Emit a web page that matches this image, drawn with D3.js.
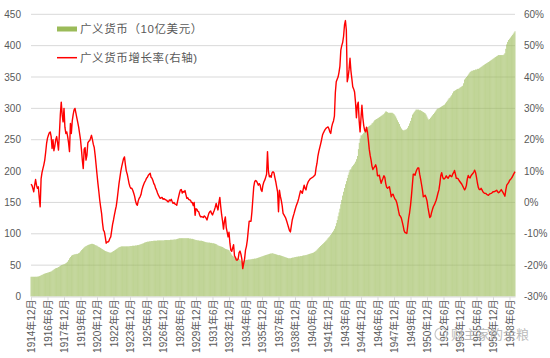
<!DOCTYPE html>
<html><head><meta charset="utf-8">
<script src="https://cdn.jsdelivr.net/npm/d3@7"></script>
<style>body{margin:0;background:#fff}svg{display:block}</style>
</head><body>
<svg id="c" width="550" height="358"></svg>
<script>
const startYear = 1914, startMonth = 12;
// 广义货币（10亿美元）, monthly from 1914-12
const money = [
31.5,
31.5,31.5,31.5,31.5,31.6,31.6,31.8,32,32.5,33,34,34.5,
35,36,36.5,37,37.5,38,38.5,39,39.5,40,41,42,
43,44,45,45.5,46,47,48,49,50,50.5,51,51.5,
52,53,54,55.5,58,61,63,65,66,66.5,67,67.5,
67.5,68,68,69,70,72,74,75.5,77,78.5,79.5,80.5,
81,82,82.5,83,83.5,84,84,83.5,83,82,81.5,81,
80,79,78.5,77.5,76.5,75.5,74.5,73.5,72.5,72,71.5,71,
70.5,70,70,70.5,71.5,72.5,73.5,74.5,75.5,76.5,77.5,78.5,
79,79.5,80,80,80,80,80,80,80,80,80,80.5,
80.5,80.5,81,81,81,81.5,81.5,82,82,82.5,83,83.5,
84,84.5,85,86,86.5,87,87.5,87.5,88,88,88.5,88.5,
88.5,89,89,89,89,89.5,89.5,89.5,89.5,89.5,89.5,89.5,
89.5,90,90,90,90,90,90,90.5,90.5,90.5,90.5,91,
91,91,91.5,92,92.5,93,93,93,93,93,93,93,
93,93,93,93,92.5,92.5,92,92,91.5,91,90.5,90,
90,89.5,89.5,89,89,89,88.5,88,87.5,87,86.5,86.5,
86,86,86,85.5,85.5,85,85,84.5,84,83.5,82.5,81.5,
81,80.5,80,79.5,79,78,77,76,75.5,75,74.5,74,
72,70,67,65,64,63,62,61.5,61,60.5,60,59,
57,56,55.5,56.5,57.5,58,58.5,58.5,59,59,59,59.5,
59.5,60,60,60.5,60.5,61,61.5,62,62.5,63,63.5,64,
64.5,65,65.5,66,66.5,67,67.5,68,68.5,68.5,69,69,
68,68,67.5,67,66.5,66,66,65.5,65,64.5,64,63.5,
63,62.5,62,61.5,61,61,61,61.5,62,62,62.5,63,
63,63.5,63.5,64,64,64.5,64.5,65,65.5,65.5,66,66,
66.5,67,67.5,68,68.5,69,69.5,70,71,72,73,74.5,
76,77.5,79,80.5,82,83.5,85,86.5,88,89.5,91,93,
94.5,96,98,100,102.5,105,108,112,117,122,128,134,
140,147,154,161,167,173,179,184,189,194,198,202,
203,206,208,210,212,215,219,224,235,245,252,257,
257,259,261,263,266,268,270,271,272,273,274,276,
277,279,281,282,283,284,285,286,287,288,289,290,
291,293,295,295,294,293,293,293,293,293,292,291,
289,287,284,281,278,275,271,268,266,265,265,266,
266,267,269,272,276,280,285,290,292,294,296,298,
298,298,298,297,297,296,295,294,293,292,290,287,
284,282,283,285,287,289,291,293,295,297,299,300,
300,301,302,303,304,305,306,308,310,312,314,316,
317,319,321,324,327,328,329,330,331,331,332,333,
334,335,336,340,346,348,350,352,354,356,358,359,
360,360,361,361,362,362,363,363,364,365,366,367,
368,369,370,371,372,373,374,375,376,377,378,379,
380,381,382,383,384,385,385,385,385,385,385,386,
388,395,402,406,409,411,413,415,417,419,421,423
];
// 广义货币增长率（%）, monthly from 1914-12
const growth = [
5.8,
5.5,4.5,3.4,5.5,7.3,5.5,4.5,5.0,1.5,-1.4,7.5,9.5,
10.8,12,13.5,16,18.8,20.5,21.4,22.2,22.5,21,17.2,20,
16.5,18,20,21,19,16.7,22,28,32,28,25.7,30,
24,22,22.5,21,19,16.2,25.2,22,26,28,29.5,30,
28.5,27,25.5,24,22,20,17,13.5,10.8,17,17.5,13.5,
15,19,19.5,19.7,20.5,21.4,20,18.5,17.5,15,12,9,
6.1,3.5,0.7,-1.5,-3.5,-6.5,-8.8,-9.3,-11,-13,-12.6,-12.6,
-12.3,-11.5,-11,-9,-7,-5.6,-4,-2.5,-1.2,1,3.5,6,
8,10,11.5,12.8,14,14.5,12,10,9,7.5,6,5,
4.5,4.5,3.9,3,2,0.5,-0.5,-0.9,0.5,1.3,1.8,2.5,
4,5,5.8,6.5,7,7.7,8,8.7,9,9.3,8,7.7,
7,6,5.5,4.5,3.9,3,2.3,1.8,1.3,1.5,1.6,1,
1.2,1,0.8,0.7,0.3,0.2,0.8,0.5,1,0.3,-0.3,0,
-0.5,-0.6,-0.9,0.5,1.8,3,4,4.1,3,3.5,3.3,3.8,
2.5,1.3,1.5,1,0.8,0.7,0,0,-1,0,-4.1,-2,
-2.2,-2.8,-3,-4,-4.6,-4.5,-4.6,-4.8,-4.3,-4.6,-5,-5.6,
-4.5,-3.5,-3,-2.7,-3.5,-4,-3.2,-2.5,-1.5,-0.3,-1.5,-2.4,
0,1.6,-1.4,-4,-6,-8.5,-6,-4.6,-8,-9.5,-11,-9.5,
-13,-15.2,-15.6,-14.5,-13.5,-17,-17.5,-18.4,-18.4,-18,-16,-15.5,
-16.5,-18,-21.1,-19.5,-18,-15.2,-14,-12,-9,-6,-6,-6,
-3,1,5,6.6,7,6.8,6.2,5.5,6,5.5,4,3.5,
5.5,6.5,7.1,8,9,16.2,10,8.2,8.5,8,9.5,9.8,
9.5,8,6.6,5,3.4,-3,3.9,2,0.7,-1,-3.5,-4,
-4.5,-5.1,-6,-7,-8,-9,-9.4,-7.5,-5.6,-4.5,-3.5,-2.4,
-1.4,-0.6,0.2,1.2,2.5,3.7,3.4,2.9,4.2,5.5,4.5,4,
5.5,6.3,6.9,7.3,7.6,7.8,8,8.2,8.5,8.8,11,12.5,
14.8,16.3,17.5,18.7,20,21.5,22.2,22.8,23.3,23.7,23.9,24.1,
23.5,22.5,22,24,25.2,26,27.5,35,38.5,39.3,40,41.5,
43.5,48.6,50,51,53,56.6,58,55,38.5,40,42.5,46,
42,39.5,36.9,36.2,35.2,32,27,31,32,26,22.5,27,
31,27,24.5,23,22.5,24,22.5,20,17,15,13.5,11.5,
10.5,11,11.4,12,11,8.5,8.5,8.7,7.3,6.1,7,7.7,
8.5,8,6,4.8,4.5,4.8,5,3.5,1.8,2.5,2.6,1.8,
1.1,0.8,0,-1.3,-2.8,-4.1,-4.4,-5,-6.2,-7.5,-9,-9.6,
-9.7,-9.9,-7.5,-5,-3.3,-1,2,5.5,9,9,8.7,9.8,
10.5,11,11,9,7.5,5.8,4,1.8,2,2.3,1.6,0.5,
-1.5,-3.2,-4.8,-4.5,-3.2,-2.2,-1.3,-0.8,0,0.7,1.8,3,
4,6,8.5,9.5,8.2,7.5,7.5,7.9,8.5,8,7.7,8.2,
8.7,8.4,8.2,9,9.5,10.2,9,7.7,7.7,7.5,7,6.6,
6.2,5.8,5.2,4.6,4,4.5,5.5,7.5,8.6,8,7.8,8.5,
8.9,9.2,9.7,10.3,9.5,8,6.2,4.8,4.1,4.1,4.5,4,
3.4,3.1,2.9,2.9,2.6,2.4,2.3,2.6,2.8,2.9,3.1,3.4,
3.4,3.5,3.7,3.9,3.4,3.1,3.3,3.7,4.1,3.6,3.1,2.6,
2,4,5.5,5.9,6.3,7,7.3,7.7,8.1,8.7,9.3,9.8
];
const tickLabels = ["1914年12月","1916年6月","1917年12月","1919年6月","1920年12月","1922年6月","1923年12月","1925年6月","1926年12月","1928年6月","1929年12月","1931年6月","1932年12月","1934年6月","1935年12月","1937年6月","1938年12月","1940年6月","1941年12月","1943年6月","1944年12月","1946年6月","1947年12月","1949年6月","1950年12月","1952年6月","1953年12月","1955年6月","1956年12月","1958年6月"];
const leftTicks = [0,50,100,150,200,250,300,350,400,450];
const rightTicks = [-30,-20,-10,0,10,20,30,40,50,60];
const legendLabels = ["广义货币（10亿美元）","广义货币增长率(右轴)"];
const watermark = "财主家的余粮";

const months = money.map((_, i) => {
  const t = startMonth - 1 + i;
  return (startYear + Math.floor(t / 12)) + "年" + (t % 12 + 1) + "月";
});

const L = 31, R = 515, T = 14.3, B = 296.5;
const FONT = "'Liberation Sans','Noto Sans CJK SC',sans-serif";
const x = d3.scalePoint().domain(months).range([L, R]);
const yL = d3.scaleLinear().domain([0, 450]).range([B, T]);
const yR = d3.scaleLinear().domain([-30, 60]).range([B, T]);

const svg = d3.select("#c");

// gridlines
svg.append("g").selectAll("line").data(leftTicks.slice(1)).join("line")
  .attr("x1", L).attr("x2", R)
  .attr("y1", d => yL(d)).attr("y2", d => yL(d))
  .attr("stroke", "#d9d9d9").attr("stroke-width", 1);

// bars
const bw = 0.62;
svg.append("g").selectAll("rect").data(money).join("rect")
  .attr("x", (d, i) => x(months[i]) - bw / 2)
  .attr("width", bw)
  .attr("y", d => yL(d))
  .attr("height", d => yL(0) - yL(d))
  .attr("fill", "#9bbb59");

// x axis
const xa = svg.append("g").attr("transform", `translate(0,${B})`)
  .call(d3.axisBottom(x).tickValues(tickLabels).tickSize(4).tickSizeOuter(0));
xa.select(".domain").attr("stroke", "#d9d9d9");
xa.selectAll(".tick line").attr("stroke", "#d9d9d9");
xa.selectAll(".tick text")
  .attr("transform", "rotate(-90)")
  .attr("x", -3).attr("y", 0).attr("dy", "0.35em")
  .attr("text-anchor", "end")
  .attr("fill", "#595959")
  .style("font-family", FONT).style("font-size", "10px");

// left axis
const la = svg.append("g").attr("transform", `translate(${L},0)`)
  .call(d3.axisLeft(yL).tickValues(leftTicks).tickSize(0).tickPadding(10));
la.select(".domain").remove();
la.selectAll("text").attr("fill", "#595959").style("font-family", FONT).style("font-size", "10px");

// right axis
const ra = svg.append("g").attr("transform", `translate(${R},0)`)
  .call(d3.axisRight(yR).tickValues(rightTicks).tickSize(0).tickPadding(9).tickFormat(d => d + "%"));
ra.select(".domain").remove();
ra.selectAll("text").attr("fill", "#595959").style("font-family", FONT).style("font-size", "10px");

// growth line
svg.append("path").datum(growth)
  .attr("fill", "none").attr("stroke", "#ff0000").attr("stroke-width", 1.4)
  .attr("stroke-linejoin", "round")
  .attr("d", d3.line().x((d, i) => x(months[i])).y(d => yR(d)));

// legend
const lg = svg.append("g");
lg.append("rect").attr("x", 57).attr("y", 26.5).attr("width", 20).attr("height", 5).attr("fill", "#9bbb59");
lg.append("line").attr("x1", 57).attr("x2", 77).attr("y1", 57.7).attr("y2", 57.7).attr("stroke", "#ff0000").attr("stroke-width", 1.5);
lg.selectAll("text").data(legendLabels).join("text")
  .attr("x", 80).attr("y", (d, i) => i === 0 ? 29 : 58).attr("dy", "0.35em")
  .attr("fill", "#595959").style("font-family", FONT).style("font-size", "11.5px")
  .style("letter-spacing", "0.6px")
  .text(d => d);

// watermark
svg.append("circle").attr("cx", 441).attr("cy", 334).attr("r", 6)
  .attr("fill", "none").attr("stroke", "#c8c8c8").attr("stroke-width", 1.2);
svg.append("text").attr("x", 451).attr("y", 339).text(watermark)
  .attr("fill", "#b0b0b0").attr("opacity", 0.85)
  .style("font-family", FONT).style("font-size", "13px");
</script>
</body></html>
